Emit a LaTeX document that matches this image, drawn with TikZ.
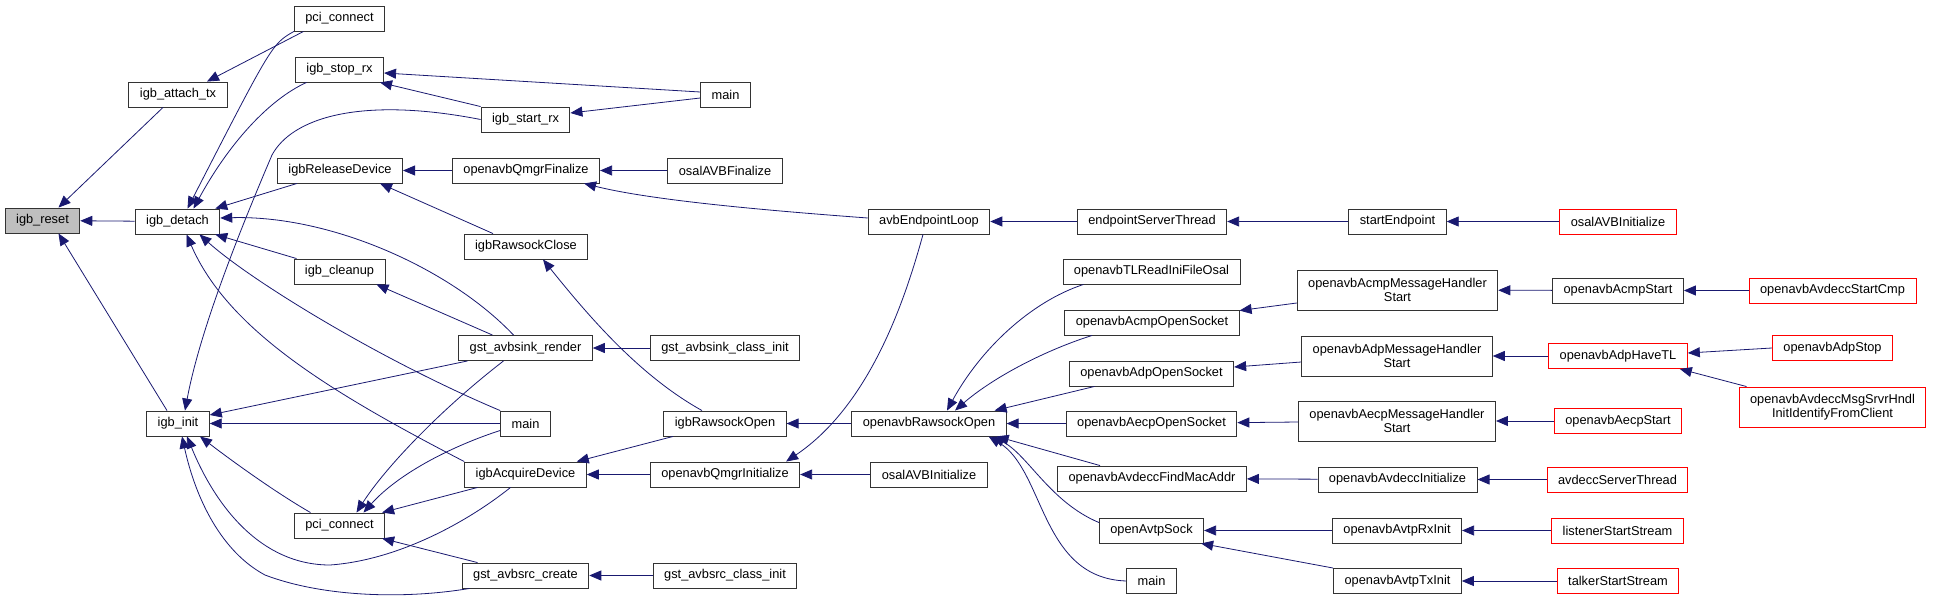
\documentclass[tikz,border=0pt]{standalone}
\usepackage{fontspec}
\setmainfont{Liberation Sans}
\usetikzlibrary{arrows.meta}
\definecolor{midnight}{HTML}{191970}
\tikzset{
  fn/.style={draw=black!80, line width=0.9pt, font=\fontsize{12.8}{14.5}\selectfont,
    minimum height=25pt, inner xsep=11pt, inner ysep=0pt, align=center},
  fnroot/.style={fn, fill=black!25},
  fnext/.style={fn, draw=red},
  fntwo/.style={minimum height=40pt},
  call/.style={draw=midnight, line width=0.8pt, -{Triangle[length=12pt,width=10pt]}}
}
\begin{document}
\begin{tikzpicture}[x=1pt,y=-1pt]
\useasboundingbox (0,0) rectangle (1933,602);
% column 0 - 1
\node[fnroot] (reset) at (42.5,220.5) {igb\_reset};
\node[fn] (attachtx) at (178,94.5) {igb\_attach\_tx};
\node[fn] (detach) at (177.5,221.5) {igb\_detach};
\node[fn] (init) at (178,423.5) {igb\_init};
% column 2
\node[fn] (pcitop) at (339.5,18.5) {pci\_connect};
\node[fn] (stoprx) at (339.5,69.5) {igb\_stop\_rx};
\node[fn] (releasedev) at (340,170.5) {igbReleaseDevice};
\node[fn] (cleanup) at (339.5,271.5) {igb\_cleanup};
\node[fn] (pcibot) at (339.5,525.5) {pci\_connect};
% column 3
\node[fn] (startrx) at (525.5,119.5) {igb\_start\_rx};
\node[fn] (qmgrfin) at (526,170.5) {openavbQmgrFinalize};
\node[fn] (rawclose) at (526,246.5) {igbRawsockClose};
\node[fn] (sinkrender) at (525.5,348) {gst\_avbsink\_render};
\node[fn] (mainmid) at (525.5,423.5) {main};
\node[fn] (acquire) at (525.5,474.5) {igbAcquireDevice};
\node[fn] (srccreate) at (525.5,575.5) {gst\_avbsrc\_create};
% column 4
\node[fn] (maintop) at (725.5,94.5) {main};
\node[fn] (osalfin) at (725,170.5) {osalAVBFinalize};
\node[fn] (sinkclass) at (725,348) {gst\_avbsink\_class\_init};
\node[fn] (rawopen) at (725,423.5) {igbRawsockOpen};
\node[fn] (qmgrinit) at (725,474.5) {openavbQmgrInitialize};
\node[fn] (srcclass) at (725,575.5) {gst\_avbsrc\_class\_init};
% column 5
\node[fn] (endloop) at (929,221.5) {avbEndpointLoop};
\node[fn] (rsopen) at (929,423.5) {openavbRawsockOpen};
\node[fn] (osalinit) at (929,474.5) {osalAVBInitialize};
% column 6
\node[fn] (eptthread) at (1152,221.5) {endpointServerThread};
\node[fn] (tlread) at (1151.5,271.5) {openavbTLReadIniFileOsal};
\node[fn] (acmpsock) at (1152,322.5) {openavbAcmpOpenSocket};
\node[fn] (adpsock) at (1151.5,373.5) {openavbAdpOpenSocket};
\node[fn] (aecpsock) at (1151.5,423.5) {openavbAecpOpenSocket};
\node[fn] (findmac) at (1152,478.5) {openavbAvdeccFindMacAddr};
\node[fn] (avtpsock) at (1151.5,530.5) {openAvtpSock};
\node[fn] (mainbot) at (1151.5,581) {main};
% column 7
\node[fn] (startep) at (1397.5,221.5) {startEndpoint};
\node[fn,fntwo] (acmpmsg) at (1397.5,290) {openavbAcmpMessageHandler\\Start};
\node[fn,fntwo] (adpmsg) at (1397,356) {openavbAdpMessageHandler\\Start};
\node[fn,fntwo] (aecpmsg) at (1397,421) {openavbAecpMessageHandler\\Start};
\node[fn] (avdeccinit) at (1397.5,479.5) {openavbAvdeccInitialize};
\node[fn] (rxinit) at (1397,530.5) {openavbAvtpRxInit};
\node[fn] (txinit) at (1397.5,581) {openavbAvtpTxInit};
% column 8
\node[fnext] (osalinitr) at (1618,221.5) {osalAVBInitialize};
\node[fn] (acmpstart) at (1618,290.5) {openavbAcmpStart};
\node[fnext] (adphavetl) at (1618,356) {openavbAdpHaveTL};
\node[fnext] (aecpstart) at (1618,421) {openavbAecpStart};
\node[fnext] (srvthread) at (1617.5,479.5) {avdeccServerThread};
\node[fnext] (listener) at (1617.5,530.5) {listenerStartStream};
\node[fnext] (talker) at (1618,581) {talkerStartStream};
% column 9
\node[fnext] (startcmp) at (1832.5,290.5) {openavbAvdeccStartCmp};
\node[fnext] (adpstop) at (1832.5,348) {openavbAdpStop};
\node[fnext,fntwo] (identify) at (1832.5,407) {openavbAvdeccMsgSrvrHndl\\InitIdentifyFromClient};

% straight calls, caller -> callee
\foreach \a/\b in {detach/reset, mainmid/init, qmgrfin/releasedev, osalfin/qmgrfin,
    sinkclass/sinkrender, qmgrinit/acquire, rsopen/rawopen, osalinit/qmgrinit,
    srcclass/srccreate, eptthread/endloop, startep/eptthread, osalinitr/startep,
    aecpsock/rsopen, aecpmsg/aecpsock, avdeccinit/findmac, rxinit/avtpsock,
    acmpstart/acmpmsg, adphavetl/adpmsg, aecpstart/aecpmsg, srvthread/avdeccinit,
    listener/rxinit, talker/txinit, startcmp/acmpstart}
  \draw[call] (\a) -- (\b);

\draw[call] ([xshift=-15pt]attachtx.south) -- ([xshift=16pt]reset.north);
\draw[call] ([xshift=-11pt]init.north) -- ([xshift=16pt]reset.south);
\draw[call] ([xshift=-36pt]pcitop.south) -- ([xshift=29pt]attachtx.north);
\draw[call] (pcitop.south west) .. controls (272,44) .. ([xshift=10pt]detach.north);
\draw[call] ([xshift=-33pt]stoprx.south) .. controls (268,100) and (228,145) .. ([xshift=16pt]detach.north);
\draw[call] ([xshift=-43pt]releasedev.south) -- ([xshift=-5pt]detach.north east);
\draw[call] ([xshift=-43pt]cleanup.north) -- ([xshift=-5pt]detach.south east);
\draw[call] ([xshift=-12pt]sinkrender.north) .. controls (450,268) and (330,215) .. ([yshift=3.5pt]detach.east);
\draw[call] (mainmid.north west) .. controls (380,360) and (250,280) .. ([xshift=22pt]detach.south);
\draw[call] (acquire.north west) .. controls (330,392) and (228,330) .. ([xshift=9pt]detach.south);

\draw[call] (startrx.west) .. controls (360,96) and (292,118) .. (272,155)
  .. controls (240,230) and (200,330) .. ([xshift=7pt]init.north);
\draw[call] ([xshift=-58pt]sinkrender.south) -- ([yshift=8.5pt]init.east);
\draw[call] ([xshift=-29pt]pcibot.north) .. controls (280,495) and (240,467) .. ([xshift=22pt]init.south);
\draw[call] ([xshift=-15pt]acquire.south) .. controls (470,520) and (400,560) .. (330,565)
  .. controls (260,565) and (215,505) .. ([xshift=9pt]init.south);
\draw[call] ([xshift=-56pt]srccreate.south) .. controls (400,600) and (320,596) .. (265,575)
  .. controls (222,552) and (196,500) .. ([xshift=4pt]init.south);

\draw[call] ([yshift=2.5pt]maintop.west) -- ([yshift=-3.5pt]stoprx.east);
\draw[call] (startrx.north west) -- ([xshift=-4pt]stoprx.south east);
\draw[call] ([yshift=-3.5pt]maintop.west) -- ([yshift=6.5pt]startrx.east);

\draw[call] ([xshift=-33pt]rawclose.north) -- ([xshift=40pt]releasedev.south);
\draw[call] ([yshift=3.5pt]endloop.west) .. controls (760,210) and (650,200) .. ([xshift=-16pt]qmgrfin.south east);
\draw[call] ([xshift=-23pt]rawopen.north) .. controls (640,376) and (590,318) .. ([xshift=17pt]rawclose.south);
\draw[call] ([xshift=-33pt]sinkrender.north) -- ([xshift=37pt]cleanup.south);

\draw[call] ([xshift=-22pt]sinkrender.south) .. controls (440,410) and (385,468) .. ([xshift=17pt]pcibot.north);
\draw[call] ([yshift=-7pt]mainmid.west) .. controls (455,445) and (400,472) .. ([xshift=24pt]pcibot.north);
\draw[call] ([xshift=-48pt]acquire.south) -- ([xshift=-3pt]pcibot.north east);
\draw[call] ([xshift=-48pt]srccreate.north) -- ([xshift=-3pt]pcibot.south east);

\draw[call] ([xshift=-52pt]rawopen.south) -- ([xshift=-10pt]acquire.north east);
\draw[call] ([xshift=-6pt]endloop.south) .. controls (905,300) and (870,405) .. ([xshift=-14pt]qmgrinit.north east);

\draw[call] ([xshift=-68pt]tlread.south) .. controls (1030,302) and (980,350) .. ([xshift=18pt]rsopen.north);
\draw[call] ([xshift=-60pt]acmpsock.south) .. controls (1040,352) and (990,380) .. ([xshift=26pt]rsopen.north);
\draw[call] ([xshift=-57pt]adpsock.south) -- ([xshift=-12pt]rsopen.north east);
\draw[call] ([xshift=-52pt]findmac.north) -- ([xshift=-10pt]rsopen.south east);
\draw[call] ([yshift=8pt]avtpsock.west) .. controls (1050,502) and (1028,455) .. ([xshift=-14pt]rsopen.south east);
\draw[call] (mainbot.west) .. controls (1040,578) and (1045,470) .. ([xshift=-18pt]rsopen.south east);

\draw[call] ([yshift=-13pt]acmpmsg.west) -- ([yshift=-1pt]acmpsock.north east);
\draw[call] ([yshift=-6pt]adpmsg.west) -- ([yshift=6.5pt]adpsock.east);
\draw[call] (txinit.north west) -- ([xshift=-3pt]avtpsock.south east);
\draw[call] (adpstop.west) -- ([yshift=3pt]adphavetl.east);
\draw[call] ([xshift=-86pt]identify.north) -- ([xshift=-8pt]adphavetl.south east);
\end{tikzpicture}
\end{document}
